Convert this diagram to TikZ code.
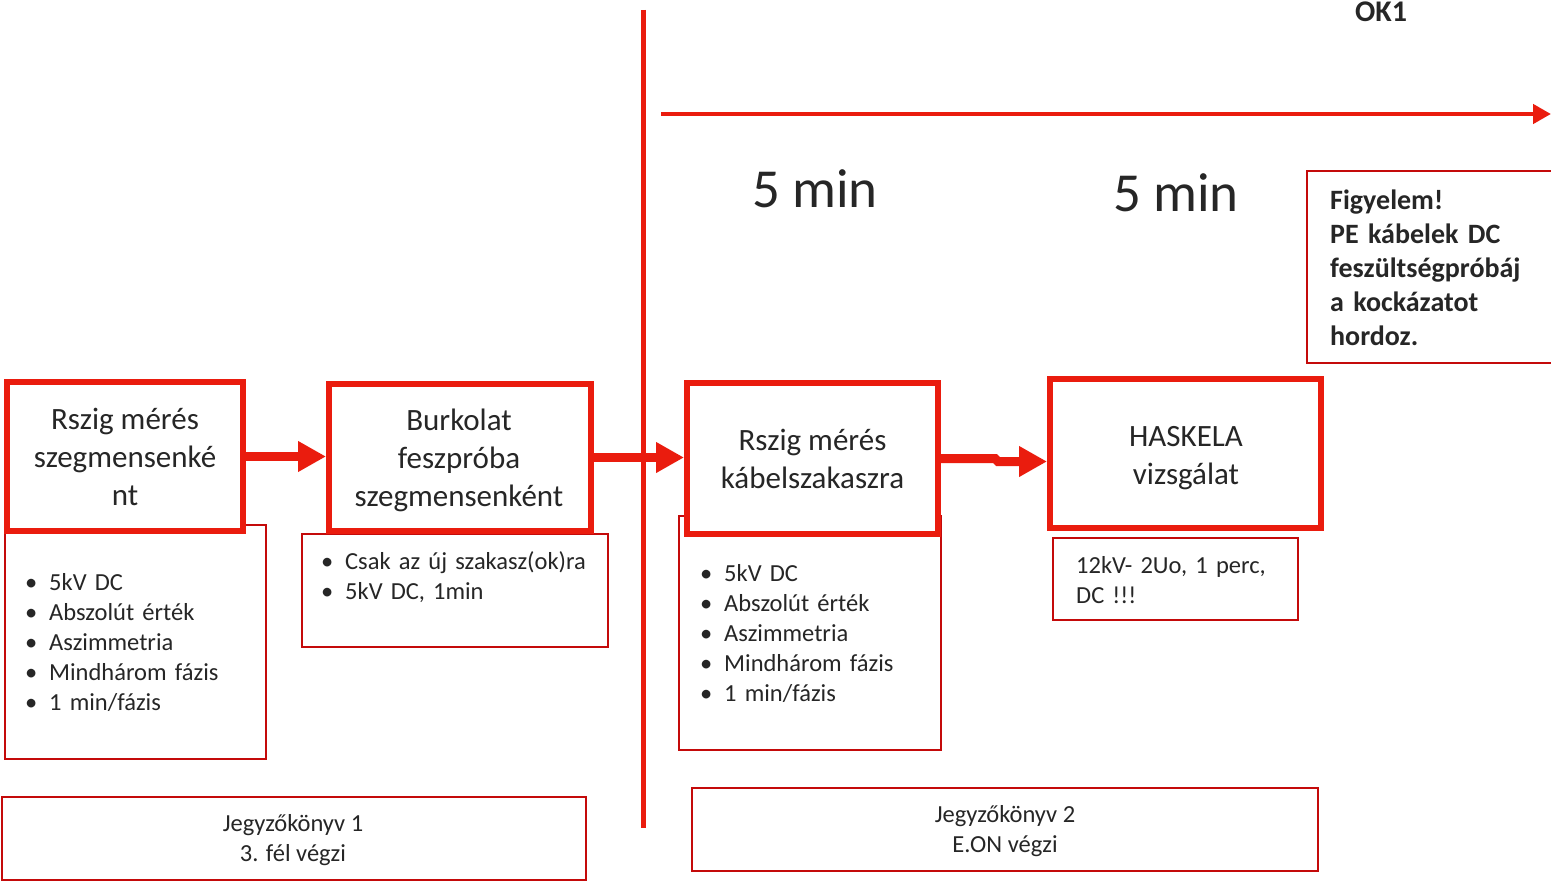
\documentclass[tikz,border=0pt]{standalone}
\usepackage{fontspec}
\setmainfont{Carlito}
\usetikzlibrary{arrows.meta,calc}
\definecolor{boxred}{RGB}{234,28,14}
\definecolor{thinred}{RGB}{196,10,10}
\definecolor{ink}{RGB}{38,38,38}
\newcommand{\itm}[1]{\makebox[24pt][l]{•}#1\strut}
\begin{document}
\begin{tikzpicture}[x=1pt,y=-1pt,
  stagebox/.style={draw=boxred, line width=6pt, fill=white, inner sep=0pt},
  stagetext/.style={inner sep=0pt, align=center, text=ink,
    font=\fontsize{31}{38}\selectfont},
  notebox/.style={draw=thinred, line width=2pt, fill=white, inner sep=0pt},
  notetext/.style={inner sep=0pt, align=center, text=ink,
    font=\fontsize{24.5}{30}\selectfont},
  listtext/.style={anchor=north west, inner sep=0pt, text=ink, align=left,
    text width=290pt, font=\fontsize{24.5}{30}\selectfont},
  bigarrow/.style={draw=boxred, line width=9pt,
    -{Triangle[length=28pt,width=29pt]}},
  timearrow/.style={draw=boxred, line width=4.5pt,
    -{Triangle[length=18pt,width=19pt]}},
  timelabel/.style={text=ink, inner sep=0pt, font=\fontsize{55}{60}\selectfont}
]
\useasboundingbox[fill=white] (0,0) rectangle (1551,883);

% note boxes (drawn first, the stage boxes overlap them)
\node[notebox, minimum width=261pt, minimum height=234pt] (n1) at (135.5,642) {};
\node[notebox, minimum width=306pt, minimum height=113pt] (n2) at (455,590.5) {};
\node[notebox, minimum width=262pt, minimum height=234pt] (n3) at (810,633) {};
\node[notebox, minimum width=245pt, minimum height=82pt] (n4) at (1175.5,579) {};
\node[notebox, minimum width=253pt, minimum height=192pt] (warn) at (1433.5,267) {};

% stage boxes
\node[stagebox, minimum width=236pt, minimum height=149pt] (b1) at (125,456.5) {};
\node[stagebox, minimum width=262pt, minimum height=147pt] (b2) at (460,457.5) {};
\node[stagebox, minimum width=251pt, minimum height=151pt] (b3) at (812.5,458.5) {};
\node[stagebox, minimum width=271pt, minimum height=149pt] (b4) at (1185.5,453.5) {};

\node[stagetext] (b1t) at ($(b1.center)+(0,3.5)$)
  {\strut Rszig mérés\\\strut szegmensenké\\\strut nt};
\node[stagetext] (b2t) at ($(b2.center)+(-1,3.2)$)
  {\strut Burkolat\\\strut feszpróba\\\strut szegmensenként};
\node[stagetext] (b3t) at ($(b3.center)+(0,2.9)$)
  {\strut Rszig mérés\\\strut kábelszakaszra};
\node[stagetext] (b4t) at ($(b4.center)+(0.5,4.5)$)
  {\strut HASKELA\\\strut vizsgálat};

% lists inside the note boxes
\node[listtext] (l1) at (25,569)
  {\itm{5kV DC}\\\itm{Abszolút érték}\\\itm{Aszimmetria}\\\itm{Mindhárom fázis}\\\itm{1 min/fázis}};
\node[listtext] (l2) at (321,548)
  {\itm{Csak az új szakasz(ok)ra}\\\itm{5kV DC, 1min}};
\node[listtext] (l3) at (700,560)
  {\itm{5kV DC}\\\itm{Abszolút érték}\\\itm{Aszimmetria}\\\itm{Mindhárom fázis}\\\itm{1 min/fázis}};
\node[listtext] (l4) at (1076,552)
  {\strut 12kV- 2Uo, 1 perc,\\\strut DC !!!};
\node[listtext, text width=240pt, font=\bfseries\fontsize{28}{34}\selectfont] (wt) at (1330,185)
  {\strut Figyelem!\\PE kábelek DC\\feszültségpróbáj\\a kockázatot\\hordoz.};

% protocol boxes
\node[notebox, minimum width=584pt, minimum height=83pt] (j1) at (294,838.5) {};
\node[notebox, minimum width=626pt, minimum height=83pt] (j2) at (1005,829.5) {};
\node[notetext] (j1t) at ($(j1.center)+(-1,2.4)$) {\strut Jegyzőkönyv 1\\\strut 3. fél végzi};
\node[notetext] (j2t) at ($(j2.center)+(0,2.4)$) {\strut Jegyzőkönyv 2\\\strut E.ON végzi};

% flow arrows
\draw[bigarrow] (b1.east) -- (b1.east -| b2.west);
\draw[bigarrow] (b2.east) -- (b2.east -| b3.west);
\draw[bigarrow] (b3.east) -- ++(54,0) -- ++(3,3) -- ($(b4.west)+(0,8)$);

% divider and time axis
\coordinate (vt) at (643.5,10);
\coordinate (vb) at (643.5,828);
\draw[boxred, line width=5pt] (vt) -- (vb);
\coordinate (tl) at (661,114);
\coordinate (tr) at (1551,114);
\draw[timearrow] (tl) -- (tr);

\node[text=ink, inner sep=0pt, font=\bfseries\fontsize{30}{36}\selectfont] (ok) at (1381,12) {OK1};
\node[timelabel] (t1) at (815,189) {5 min};
\node[timelabel] (t2) at (1176,193) {5 min};
\end{tikzpicture}
\end{document}
